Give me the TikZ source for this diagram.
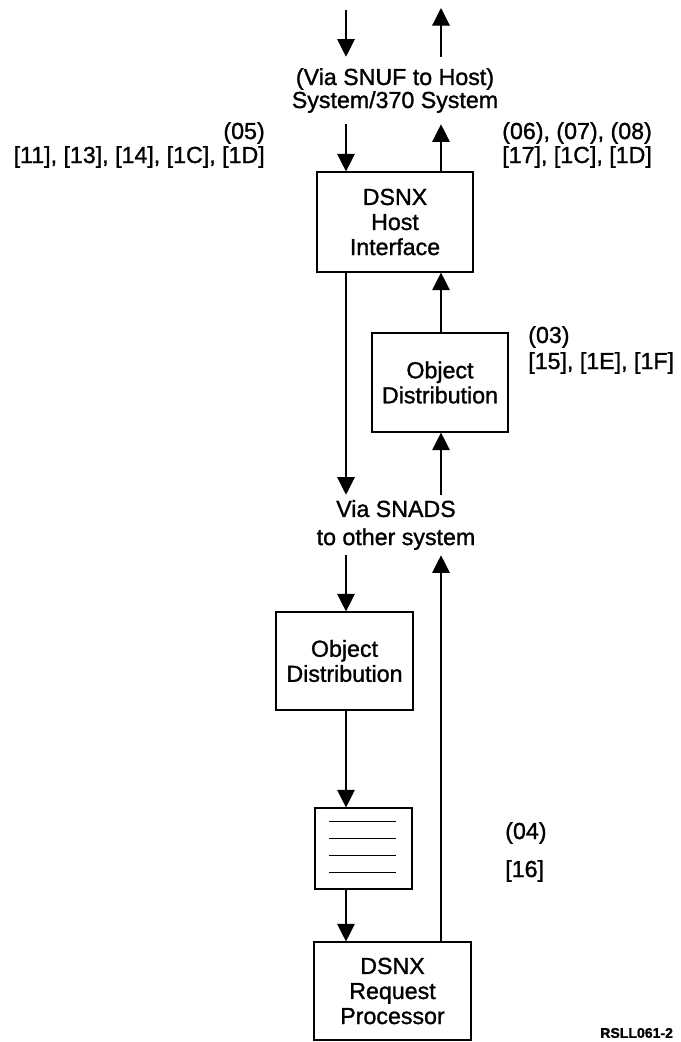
\documentclass[tikz,border=0pt]{standalone}
\usepackage{fontspec}
\setmainfont{Liberation Sans}[FakeBold=1.2]
\usetikzlibrary{positioning, calc, arrows.meta}

\begin{document}
\begin{tikzpicture}[x=0.025cm, y=-0.025cm,
        every node/.style={font=\fontsize{16.5}{18}\selectfont},
        blocco/.style={draw, line width=0.8pt, align=center, inner sep=0pt, font=\fontsize{16.5}{17.8}\selectfont},
        testo/.style={align=center, inner sep=0pt},
        freccia/.style={line width=0.8pt, -{Triangle[length=12.5pt, width=12.5pt]}}]
        \useasboundingbox (0,0) rectangle (681,1042);
        %colonne delle frecce
        \coordinate (colA) at (346,0);
        \coordinate (colB) at (441,0);
        \coordinate (topA) at (346,10);
        \coordinate (topB) at (441,8);
        %testi di passaggio
        \node[testo, minimum height=1.675cm, font=\fontsize{16.5}{15}\selectfont] (snuf) at (395,90.5) {(Via SNUF to Host)\\System/370 System};
        \node[testo, minimum height=1.5cm, font=\fontsize{16.5}{20}\selectfont] (snads) at (396,525) {Via SNADS\\to other system};
        %blocchi
        \node[blocco, minimum width=3.9cm, minimum height=2.5cm] (host) at (395,222) {DSNX\\Host\\Interface};
        \node[blocco, minimum width=3.4cm, minimum height=2.475cm] (objup) at (440,382.5) {Object\\Distribution};
        \node[blocco, minimum width=3.425cm, minimum height=2.45cm] (objlow) at (344.5,661) {Object\\Distribution};
        \node[blocco, minimum width=2.425cm, minimum height=2.025cm] (queue) at (363.5,848.5) {};
        \node[blocco, minimum width=3.925cm, minimum height=2.45cm] (proc) at (392.5,991) {DSNX\\Request\\Processor};
        %righe della coda
        \foreach \k in {14,31,48,65}
            \draw[line width=0.8pt] ($(queue.north west)+(15,\k)$) --++ (67,0);
        %frecce
        \draw[freccia] (topA) -- (snuf.north -| colA);
        \draw[freccia] (snuf.north -| colB) -- (topB);
        \draw[freccia] (snuf.south -| colA) -- (host.north -| colA);
        \draw[freccia] (host.north -| colB) -- (snuf.south -| colB);
        \draw[freccia] (host.south -| colA) -- (snads.north -| colA);
        \draw[freccia] (objup.north -| colB) -- (host.south -| colB);
        \draw[freccia] (snads.north -| colB) -- (objup.south -| colB);
        \draw[freccia] (snads.south -| colA) -- (objlow.north -| colA);
        \draw[freccia] (objlow.south -| colA) -- (queue.north -| colA);
        \draw[freccia] (queue.south -| colA) -- (proc.north -| colA);
        \draw[freccia] (proc.north -| colB) -- (snads.south -| colB);
        %etichette
        \node[anchor=east, inner sep=0pt] (c05) at (265,133) {(05)};
        \node[anchor=east, inner sep=0pt] (r05) at (265,157) {[11], [13], [14], [1C], [1D]};
        \node[anchor=west, inner sep=0pt] (c06) at (502,133) {(06), (07), (08)};
        \node[anchor=west, inner sep=0pt] (r06) at (502,157) {[17], [1C], [1D]};
        \node[anchor=west, inner sep=0pt] (c03) at (528,337) {(03)};
        \node[anchor=west, inner sep=0pt] (r03) at (528,363) {[15], [1E], [1F]};
        \node[anchor=west, inner sep=0pt] (c04) at (505,833) {(04)};
        \node[anchor=west, inner sep=0pt] (r04) at (505,871) {[16]};
        \node[anchor=west, inner sep=0pt, font=\bfseries\fontsize{10}{12}\selectfont] (fig) at (600,1033) {RSLL061-2};
    \end{tikzpicture}
\end{document}
